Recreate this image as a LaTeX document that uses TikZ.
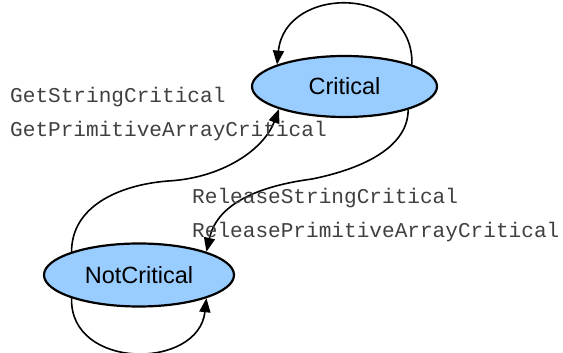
\documentclass[tikz,border=0pt]{standalone}
\usepackage{fontspec}
\setmainfont{Liberation Sans}
\newfontfamily\codefont{Liberation Mono}
\usetikzlibrary{shapes.geometric,arrows.meta}
\definecolor{statefill}{RGB}{153,204,255}
\begin{document}
\begin{tikzpicture}[x=1pt, y=1pt,
  state/.style={ellipse, draw, line width=2.2pt, fill=statefill, inner sep=0pt,
    font=\fontsize{23.5}{28}\selectfont},
  edge/.style={line width=1.6pt, -{Triangle[length=14pt,width=11pt]}},
  lbl/.style={anchor=base west, inner sep=0pt, text=black!75,
    font=\codefont\fontsize{21.1}{24}\selectfont}]
\useasboundingbox (0,0) rectangle (563,353);
\node[state, minimum width=185pt, minimum height=61pt] (crit) at (344.5,266.5) {Critical};
\node[state, minimum width=190pt, minimum height=63pt] (nc) at (139,78) {NotCritical};
\coordinate (gup) at (168,172);
\coordinate (rdown) at (312,174);
% self loops
\draw[edge] (crit.18) .. controls +(2,80) and +(8,80) .. (crit.162);
\draw[edge] (nc.199) .. controls +(-2,-72) and +(-8,-72) .. (nc.-19);
% get / release
\draw[edge] (nc.161) .. controls +(0,45) and +(-50,-4) .. (gup)
  .. controls +(55,3) and +(-15,-40) .. (crit.199);
\draw[edge] (crit.-20) .. controls +(0,-40) and +(45,9) .. (rdown)
  .. controls +(-60,-8) and +(10,45) .. (nc.19);
\foreach \xpos/\ypos/\txt [count=\i] in {
  10/250/GetStringCritical,
  10/216/GetPrimitiveArrayCritical,
  192/149/ReleaseStringCritical,
  192/115/ReleasePrimitiveArrayCritical}
{
  \node[lbl] (lbl\i) at (\xpos,\ypos) {\txt};
}
\end{tikzpicture}
\end{document}
